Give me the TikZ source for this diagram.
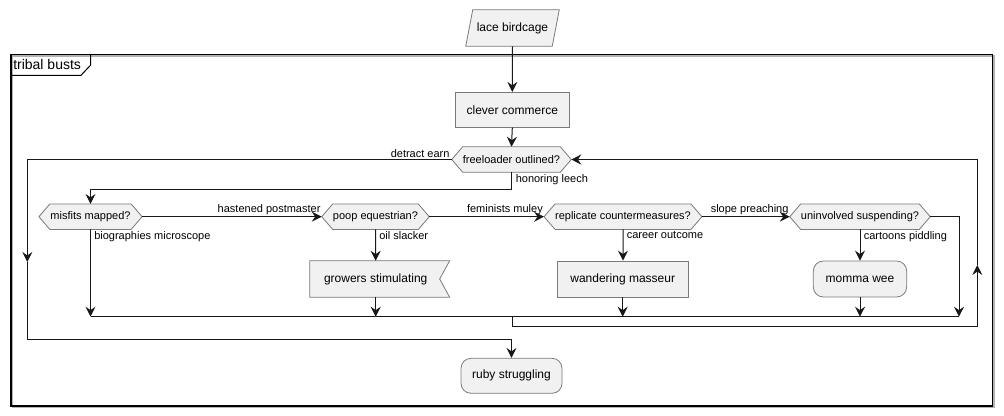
\documentclass[tikz,border=0pt]{standalone}
\usepackage{fontspec}
\setmainfont{Liberation Sans}
\usetikzlibrary{arrows.meta,calc,backgrounds}
\definecolor{nfill}{HTML}{F1F1F1}
\definecolor{nborder}{HTML}{7A7A7A}
\definecolor{ln}{HTML}{181818}
\begin{document}
\begin{tikzpicture}[x=0.75pt,y=-0.75pt,
  txtA/.style={font=\fontsize{9pt}{11pt}\selectfont},
  txtB/.style={font=\fontsize{8.25pt}{10pt}\selectfont},
  shp/.style={draw=nborder, fill=nfill, line width=0.6pt},
  box/.style={shp, rectangle, inner sep=0pt, minimum height=26.25pt, txtA},
  ghost/.style={rectangle, inner sep=0pt, txtA},
  hexn/.style={rectangle, inner sep=0pt, minimum height=18.75pt, txtB},
  conn/.style={draw=ln, line width=0.75pt},
  arr/.style={conn, -{Stealth[length=7.5pt,width=7.5pt,inset=2.6pt]}},
  lbl/.style={txtB, inner sep=1.5pt}]
\useasboundingbox (0,0) rectangle (1004,415);
\begin{scope}[on background layer]
\fill[white] (0,0) rectangle (1004,415);
\end{scope}
% frame
\draw[gray!60, line width=1.1pt] (12.5,55.8) rectangle (993.8,407.5);
\draw[black, line width=1.1pt] (11,54.3) rectangle (992.3,406);
\draw[black, line width=0.75pt] (11,75.3) -- (81,75.3) -- (90.7,65) -- (90.7,54.3);
\node[anchor=west, inner sep=0pt, font=\fontsize{10.5pt}{12pt}\selectfont] (frm) at (13,64.8) {tribal busts};

% nodes
\node[ghost, minimum width=64.5pt, minimum height=27pt] (lace) at (512.5,28) {lace birdcage};
\node[box, minimum width=85.5pt] (clever) at (512.3,109.8) {clever commerce};
\node[hexn, minimum width=89.25pt] (free) at (511.5,159.5) {freeloader outlined?};
\node[hexn, minimum width=77pt] (mis) at (90.5,216.7) {misfits mapped?};
\node[hexn, minimum width=80.25pt] (poop) at (375.5,216.7) {poop equestrian?};
\node[hexn, minimum width=118pt] (rep) at (623,216.7) {replicate countermeasures?};
\node[hexn, minimum width=105pt] (uni) at (860,216.7) {uninvolved suspending?};
\node[ghost, minimum width=98.55pt, minimum height=27pt] (grow) at (375.7,279) {growers stimulating};
\node[box, minimum width=98pt, minimum height=27pt] (wand) at (622.7,279) {wandering masseur};
\node[box, rounded corners=7.5pt, minimum width=70pt, minimum height=27pt] (mom) at (860,279) {momma wee};
\node[box, rounded corners=7.5pt, minimum width=75.75pt] (ruby) at (511.5,375.8) {ruby struggling};

\begin{scope}[on background layer]
\draw[shp] ($(lace.north west)+(3.5,0)$) -- ($(lace.north east)+(3.5,0)$) -- ($(lace.south east)+(-3.5,0)$) -- ($(lace.south west)+(-3.5,0)$) -- cycle;
\foreach \n in {free,mis,poop,rep,uni}{
\draw[shp] (\n.west) -- ($(\n.north west)+(11,0)$) -- ($(\n.north east)+(-11,0)$) -- (\n.east) -- ($(\n.south east)+(-11,0)$) -- ($(\n.south west)+(11,0)$) -- cycle;
}
\draw[shp] (grow.north west) -- ($(grow.north east)+(8,0)$) -- ($(grow.east)+(-2,0)$) -- ($(grow.south east)+(8,0)$) -- (grow.south west) -- cycle;
\end{scope}

% coordinates
\coordinate (dl) at (27.3,262);
\coordinate (bot) at (511.5,339);
\coordinate (hl) at (511.5,189.3);
\coordinate (m1) at (90.5,316.7);
\coordinate (m2) at (375.7,316.7);
\coordinate (m3) at (622.7,316.7);
\coordinate (m4) at (860,316.7);
\coordinate (m5) at (959,316.7);
\coordinate (mj) at (512.3,316.7);
\coordinate (lp) at (512.3,326);
\coordinate (ru) at (977.3,265);

% connectors
\draw[arr] (lace.south) -- (clever.north);
\draw[arr] (clever.south) -- (free.north);
\draw[arr] (free.west) -| (dl);
\draw[arr] (dl) |- (bot) -- (ruby.north);
\node[lbl, anchor=south east] (l1) at (free.west) {detract earn};
\draw[arr] (free.south) -- (hl) -| (mis.north);
\node[lbl, anchor=north west] (l2) at ($(free.south)+(2,0)$) {honoring leech};

\draw[arr] (mis.east) -- (poop.west);
\node[lbl, anchor=south east] (l3) at ($(poop.west)+(1,0)$) {hastened postmaster};
\draw[arr] (poop.east) -- (rep.west);
\node[lbl, anchor=south east] (l4) at ($(rep.west)+(1,0)$) {feminists muley};
\draw[arr] (rep.east) -- (uni.west);
\node[lbl, anchor=south east] (l5) at ($(uni.west)+(1,0)$) {slope preaching};

\draw[arr] (mis.south) -- (m1);
\node[lbl, anchor=north west] (l6) at ($(mis.south)+(1.5,0)$) {biographies microscope};
\draw[arr] (poop.south) -- (grow.north);
\node[lbl, anchor=north west] (l7) at ($(poop.south)+(1.5,0)$) {oil slacker};
\draw[arr] (grow.south) -- (m2);
\draw[arr] (rep.south) -- ($(wand.north)+(0.3,0)$);
\node[lbl, anchor=north west] (l8) at ($(rep.south)+(1.5,0)$) {career outcome};
\draw[arr] (wand.south) -- (m3);
\draw[arr] (uni.south) -- (mom.north);
\node[lbl, anchor=north west] (l9) at ($(uni.south)+(1.5,0)$) {cartoons piddling};
\draw[arr] (mom.south) -- (m4);
\draw[arr] (uni.east) -| (m5);

\draw[conn] (m1) -- (m5);
\draw[arr] (mj) -- (lp) -| (ru);
\draw[arr] (ru) |- (free.east);
\end{tikzpicture}
\end{document}
